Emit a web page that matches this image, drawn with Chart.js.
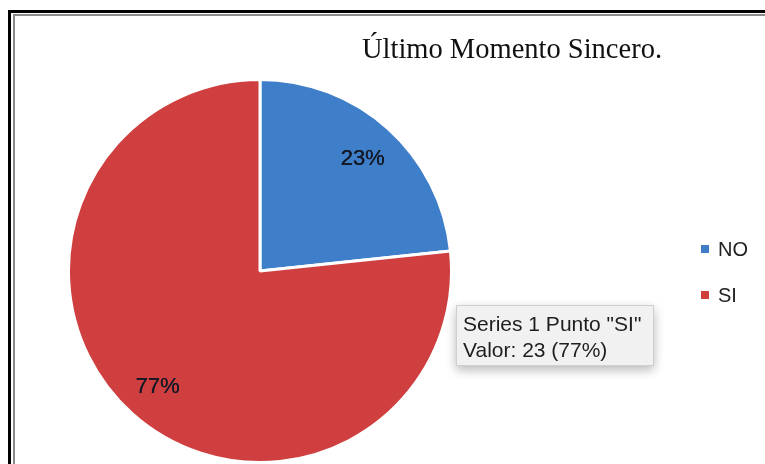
<!DOCTYPE html>
<html><head><meta charset="utf-8">
<script src="https://cdn.jsdelivr.net/npm/chart.js@4.4.0/dist/chart.umd.min.js"></script>
<style>html,body{margin:0;padding:0;background:#fff;overflow:hidden}#wrap{position:relative;width:765px;height:464px}</style>
</head><body><div id="wrap"><canvas id="c" width="765" height="464"></canvas></div>
<script>
const categories = ['NO', 'SI'];
const values = [7, 23];
const sliceColors = ['#3f7ec8', '#d03f3f'];
const chartTitle = 'Último Momento Sincero.';
const seriesName = 'Series 1';
const tooltipIndex = 1;

const total = values.reduce((a, b) => a + b, 0);
const pct = v => Math.round(v / total * 100);

const decor = {
  id: 'decor',
  beforeDraw(chart) {
    const ctx = chart.ctx;
    ctx.save();
    ctx.fillStyle = '#fff';
    ctx.fillRect(0, 0, chart.width, chart.height);
    ctx.fillStyle = '#000';
    ctx.fillRect(8, 10, chart.width - 8, 3);
    ctx.fillRect(8, 10, 3, chart.height - 10);
    ctx.fillStyle = '#8a8a8a';
    ctx.fillRect(13, 14, chart.width - 13, 2);
    ctx.fillRect(13, 14, 2, chart.height - 14);
    ctx.restore();
  },
  afterDatasetsDraw(chart) {
    const ctx = chart.ctx;
    const meta = chart.getDatasetMeta(0);
    ctx.save();
    // percentage labels
    ctx.font = '22px "Liberation Sans", Arial, sans-serif';
    ctx.fillStyle = '#141925';
    ctx.textAlign = 'center';
    ctx.textBaseline = 'middle';
    meta.data.forEach((arc, i) => {
      const p = arc.getProps(['x', 'y', 'startAngle', 'endAngle', 'outerRadius'], true);
      const mid = (p.startAngle + p.endAngle) / 2;
      const r = p.outerRadius * 0.8;
      const lx = p.x + Math.cos(mid) * r, ly = p.y + Math.sin(mid) * r;
      ctx.fillText(pct(values[i]) + '%', lx, ly + 2);
      ctx.fillText(pct(values[i]) + '%', lx + 0.4, ly + 2);
    });
    // title
    ctx.font = '28.5px "Liberation Serif", "Times New Roman", serif';
    ctx.fillStyle = '#111';
    ctx.textAlign = 'center';
    ctx.textBaseline = 'alphabetic';
    ctx.fillText(chartTitle, 512, 58);
    // legend
    ctx.font = '20px "Liberation Sans", Arial, sans-serif';
    ctx.textAlign = 'left';
    ctx.textBaseline = 'middle';
    categories.forEach((c, i) => {
      const y = 249 + i * 46;
      ctx.fillStyle = sliceColors[i];
      ctx.fillRect(701, y - 4, 8, 8);
      ctx.fillStyle = '#222';
      ctx.fillText(c, 718, y + 1);
    });
    // tooltip
    ctx.save();
    ctx.shadowColor = 'rgba(0,0,0,0.28)';
    ctx.shadowBlur = 10;
    ctx.shadowOffsetY = 4;
    ctx.fillStyle = '#f1f1f1';
    ctx.fillRect(456, 305, 198, 61);
    ctx.restore();
    ctx.strokeStyle = '#cfcfcf';
    ctx.lineWidth = 1;
    ctx.strokeRect(456.5, 305.5, 197, 60);
    ctx.fillStyle = '#1e1e1e';
    ctx.font = '21px "Liberation Sans", Arial, sans-serif';
    ctx.textBaseline = 'alphabetic';
    ctx.fillText(seriesName + ' Punto "' + categories[tooltipIndex] + '"', 463, 331);
    ctx.fillText('Valor: ' + values[tooltipIndex] + ' (' + pct(values[tooltipIndex]) + '%)', 463, 357);
    ctx.restore();
  }
};

new Chart(document.getElementById('c'), {
  type: 'pie',
  data: {
    labels: categories,
    datasets: [{
      label: seriesName,
      data: values,
      backgroundColor: sliceColors,
      hoverBackgroundColor: sliceColors,
      borderColor: '#ffffff',
      hoverBorderColor: '#ffffff',
      borderWidth: 3,
      hoverOffset: 0
    }]
  },
  options: {
    responsive: false,
    animation: false,
    events: [],
    layout: { padding: { left: 67, right: 312, top: 78, bottom: 0 } },
    plugins: { legend: { display: false }, tooltip: { enabled: false }, title: { display: false } }
  },
  plugins: [decor]
});
</script>
</body></html>
